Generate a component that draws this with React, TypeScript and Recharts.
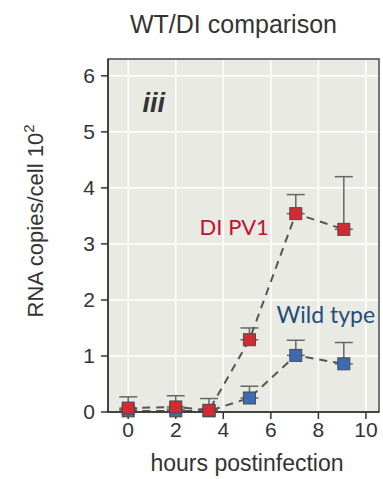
import {
  LineChart,
  Line,
  XAxis,
  YAxis,
  CartesianGrid,
  ErrorBar,
  ReferenceArea,
  ReferenceDot,
} from "recharts";

const hours = [0, 2, 3.4, 5.1, 7.05, 9.07];
const diPv1 = [0.07, 0.09, 0.03, 1.29, 3.54, 3.26];
const diPv1Err = [0.2, 0.2, 0.21, 0.21, 0.34, 0.94];
const wildType = [0.02, 0.02, 0.02, 0.25, 1.01, 0.86];
const wildTypeErr = [0.03, 0.03, 0.03, 0.21, 0.27, 0.38];
const xTicks = [0, 2, 4, 6, 8, 10];
const yTicks = [0, 1, 2, 3, 4, 5, 6];

const data = hours.map((h, i) => ({
  h,
  di: diPv1[i],
  diErr: [0, diPv1Err[i]],
  wt: wildType[i],
  wtErr: [0, wildTypeErr[i]],
}));

const FONT = "'Liberation Sans', Arial, sans-serif";
const INK = "#333";

const square = (fill: string) => (props: any) => {
  const { cx, cy, index } = props;
  if (cx == null || cy == null) return null;
  return (
    <rect
      key={index}
      x={cx - 6}
      y={cy - 6}
      width={12}
      height={12}
      fill={fill}
      stroke="#4a4a4a"
      strokeWidth={1}
    />
  );
};

const XTitle = () => (
  <text x={247} y={471} textAnchor="middle" fontSize={23} fill={INK} fontFamily={FONT}>
    hours postinfection
  </text>
);

const YTitle = () => (
  <text
    x={43}
    y={221}
    transform="rotate(-90, 43, 221)"
    textAnchor="middle"
    fontSize={22}
    fill={INK}
    fontFamily={FONT}
  >
    RNA copies/cell 10
    <tspan dy={-9} fontSize={15}>
      2
    </tspan>
  </text>
);

export default function App() {
  return (
    <div style={{ position: "absolute", left: 0, top: 0, width: 383, height: 479, overflow: "hidden", background: "#fff" }}>
      <div
        style={{
          position: "absolute",
          left: 100,
          width: 267,
          top: 10,
          textAlign: "center",
          fontFamily: FONT,
          fontSize: 25,
          color: INK,
        }}
      >
        WT/DI comparison
      </div>
      <LineChart
        width={383}
        height={479}
        data={data}
        margin={{ top: 59, right: 4, bottom: 0, left: 0 }}
        style={{ position: "absolute", left: 0, top: 0 }}
      >
        <CartesianGrid fill="#eaeae5" stroke="#ffffff" strokeWidth={1.5} />
        <ReferenceArea x1={-0.85} x2={10.55} y1={0} y2={6.3} fill="none" stroke="#444" strokeWidth={1.5} />
        <XAxis
          dataKey="h"
          type="number"
          domain={[-0.85, 10.55]}
          ticks={xTicks}
          interval={0}
          height={67}
          tickSize={7}
          tickMargin={3}
          stroke="#333"
          strokeWidth={1.5}
          tick={{ fontSize: 21, fill: INK, fontFamily: FONT }}
          label={<XTitle />}
        />
        <YAxis
          type="number"
          domain={[0, 6.3]}
          ticks={yTicks}
          interval={0}
          width={108}
          tickSize={7}
          tickMargin={6}
          stroke="#333"
          strokeWidth={1.5}
          tick={{ fontSize: 21, fill: INK, fontFamily: FONT }}
          label={<YTitle />}
        />
        <Line
          dataKey="wt"
          stroke="#555"
          strokeWidth={2}
          strokeDasharray="8 6"
          dot={square("#3b6bb5")}
          isAnimationActive={false}
        >
          <ErrorBar dataKey="wtErr" direction="y" width={9} stroke="#666" strokeWidth={1.5} />
        </Line>
        <Line
          dataKey="di"
          stroke="#555"
          strokeWidth={2}
          strokeDasharray="8 6"
          dot={square("#d42a33")}
          isAnimationActive={false}
        >
          <ErrorBar dataKey="diErr" direction="y" width={9} stroke="#666" strokeWidth={1.5} />
        </Line>
        <ReferenceDot
          x={1.08}
          y={5.52}
          r={0}
          fill="none"
          stroke="none"
          label={{ value: "iii", position: "center", fontSize: 27, fontStyle: "italic", fontWeight: "bold", fill: "#333", fontFamily: FONT }}
        />
        <ReferenceDot
          x={4.46}
          y={3.3}
          r={0}
          fill="none"
          stroke="none"
          label={{ value: "DI PV1", position: "center", fontSize: 22, fill: "#c0142c", fontFamily: "Lato, 'Open Sans', sans-serif" }}
        />
        <ReferenceDot
          x={8.31}
          y={1.74}
          r={0}
          fill="none"
          stroke="none"
          label={{ value: "Wild type", position: "center", fontSize: 23, fill: "#1f4e79", fontFamily: "Lato, 'Open Sans', sans-serif" }}
        />
      </LineChart>
    </div>
  );
}
